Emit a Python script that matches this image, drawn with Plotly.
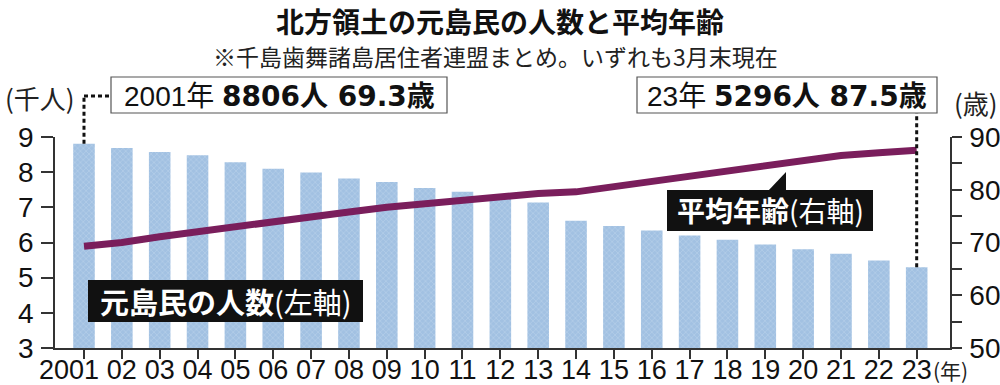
import plotly.graph_objects as go

# ---- data ----
years = ["2001", "02", "03", "04", "05", "06", "07", "08", "09", "10", "11", "12",
         "13", "14", "15", "16", "17", "18", "19", "20", "21", "22", "23"]
tick_labels = ["2001\u00a0\u00a0\u00a0\u00a0"] + years[1:]
population_k = [8.806, 8.69, 8.57, 8.48, 8.28, 8.10, 7.99, 7.82, 7.72, 7.55, 7.44, 7.31,
                7.14, 6.62, 6.47, 6.34, 6.20, 6.08, 5.94, 5.81, 5.68, 5.49, 5.296]
avg_age = [69.3, 70.0, 71.1, 72.1, 73.0, 73.9, 74.8, 75.8, 76.7, 77.4, 78.0, 78.6,
           79.3, 79.6, 80.6, 81.7, 82.8, 83.7, 84.8, 85.6, 86.5, 87.0, 87.5]
left_ticks = [3, 4, 5, 6, 7, 8, 9]
right_ticks = [50, 60, 70, 80, 90]

W, H = 1000, 385
L, R, T, B = 55, 50, 137, 37
XMIN, XMAX = -0.766, 22.88
YMIN, YMAX = 3, 9

def px(x):
    return (x - L) / (W - L - R)

def py(y):
    return (H - B - y) / (H - T - B)

def cx(i):
    return (i - XMIN) / (XMAX - XMIN)

def cy(v):
    return (v - YMIN) / (YMAX - YMIN)

NUM = "Liberation Sans, Arial, Noto Sans CJK JP, sans-serif"
CJK = "Noto Sans CJK JP, sans-serif"
WIDEB = "DejaVu Sans, Noto Sans CJK JP, sans-serif"

fig = go.Figure()
fig.add_trace(go.Bar(
    x=years, y=population_k, yaxis="y",
    marker=dict(color="#A6C4E4", line=dict(width=0),
                pattern=dict(shape="x", fgcolor="#D4E3F3", bgcolor="#A2C1E2", size=4, solidity=0.25)),
    hoverinfo="skip",
))
fig.add_trace(go.Scatter(
    x=years, y=avg_age, yaxis="y2", mode="lines",
    line=dict(color="#7A1E5C", width=7), hoverinfo="skip",
))

shapes = []
# connector for 2001
shapes.append(dict(type="line", xref="x", yref="paper", x0=0, x1=0,
                   y0=cy(population_k[0]), y1=py(96),
                   line=dict(color="#111", width=3, dash="4px,3px")))
shapes.append(dict(type="line", xref="paper", yref="paper", x0=cx(0), x1=px(110),
                   y0=py(96), y1=py(96),
                   line=dict(color="#111", width=3, dash="4px,3px")))
# connector for 23
shapes.append(dict(type="line", xref="x", yref="paper", x0=22, x1=22,
                   y0=cy(population_k[22]), y1=py(113),
                   line=dict(color="#111", width=3, dash="4px,3px")))
# value boxes
for x0, x1 in [(111, 447), (637, 937)]:
    shapes.append(dict(type="rect", xref="paper", yref="paper",
                       x0=px(x0), x1=px(x1), y0=py(113), y1=py(77),
                       line=dict(color="#555", width=1.2), fillcolor="white"))
# black label boxes
shapes.append(dict(type="rect", xref="paper", yref="paper",
                   x0=px(88), x1=px(363), y0=py(322), y1=py(280),
                   line=dict(width=0), fillcolor="#111"))
shapes.append(dict(type="rect", xref="paper", yref="paper",
                   x0=px(667), x1=px(873), y0=py(231), y1=py(190),
                   line=dict(width=0), fillcolor="#111"))
shapes.append(dict(type="path", xref="paper", yref="paper",
                   path=f"M {px(768)},{py(191)} L {px(786)},{py(172)} L {px(786)},{py(191)} Z",
                   line=dict(width=0), fillcolor="#111"))

annotations = [
    dict(text="<b>北方領土の元島民の人数と平均年齢</b>", x=px(500), y=py(21),
         font=dict(family=CJK, size=28, color="#111", weight=900)),
    dict(text="※千島歯舞諸島居住者連盟まとめ。いずれも3月末現在", x=px(495), y=py(56),
         font=dict(family=CJK, size=23, color="#222")),
    dict(text="(千人)", x=px(40), y=py(97), font=dict(family=CJK, size=26, color="#222")),
    dict(text="(歳)", x=px(976), y=py(103), font=dict(family=CJK, size=26, color="#222")),
    dict(text="(年)", x=px(931), y=py(370), xanchor="left",
         font=dict(family=CJK, size=21, color="#222")),
    dict(text=f"2001年 <span style='font-family:{WIDEB}'><b>8806人 69.3歳</b></span>",
         x=px(279), y=py(96), font=dict(family=NUM, size=28, color="#111")),
    dict(text=f"23年 <span style='font-family:{WIDEB}'><b>5296人 87.5歳</b></span>",
         x=px(787), y=py(96), font=dict(family=NUM, size=28, color="#111")),
    dict(text="<b>元島民の人数</b>(左軸)", x=px(226), y=py(301),
         font=dict(family=CJK, size=29, color="white")),
    dict(text="<b>平均年齢</b>(右軸)", x=px(770), y=py(210),
         font=dict(family=CJK, size=28, color="white")),
]
for a in annotations:
    a.update(xref="paper", yref="paper", showarrow=False)
    a.setdefault("xanchor", "center")
    a.setdefault("yanchor", "middle")

tickfont = dict(family=NUM, size=28, color="#111")
fig.update_layout(
    width=W, height=H, margin=dict(l=L, r=R, t=T, b=B, autoexpand=False),
    paper_bgcolor="white", plot_bgcolor="white",
    showlegend=False, bargap=0.43,
    xaxis=dict(type="category", categoryorder="array", categoryarray=years,
               tickvals=years, ticktext=tick_labels,
               range=[XMIN, XMAX], showgrid=False, showline=True, linecolor="#333",
               linewidth=1.5, ticks="outside", ticklen=9, tickcolor="#333",
               tickwidth=1.5, tickfont=dict(family=NUM, size=27, color="#111"),
               zeroline=False, tickangle=0, automargin=False, ticklabelstandoff=-12),
    yaxis=dict(range=[YMIN, YMAX], tickvals=left_ticks, showgrid=False, showline=True,
               linecolor="#333", linewidth=1.5, ticks="outside", ticklen=12,
               tickcolor="#333", tickwidth=1.5, tickfont=tickfont, zeroline=False,
               ticklabelstandoff=2, automargin=False),
    yaxis2=dict(range=[50, 90], tickvals=right_ticks, overlaying="y", side="right",
                showgrid=False, showline=True, linecolor="#333", linewidth=1.5,
                ticks="outside", ticklen=10, tickcolor="#333", tickwidth=1.5,
                tickfont=tickfont, zeroline=False, ticklabelstandoff=2, automargin=False,
                minor=dict(dtick=5, tick0=50, ticks="outside", ticklen=10,
                           tickcolor="#333", tickwidth=1.5)),
    shapes=shapes, annotations=annotations,
)

fig.write_html("out.html", config={"displayModeBar": False},
               post_script="document.body.style.margin='0';document.body.style.overflow='hidden';")
